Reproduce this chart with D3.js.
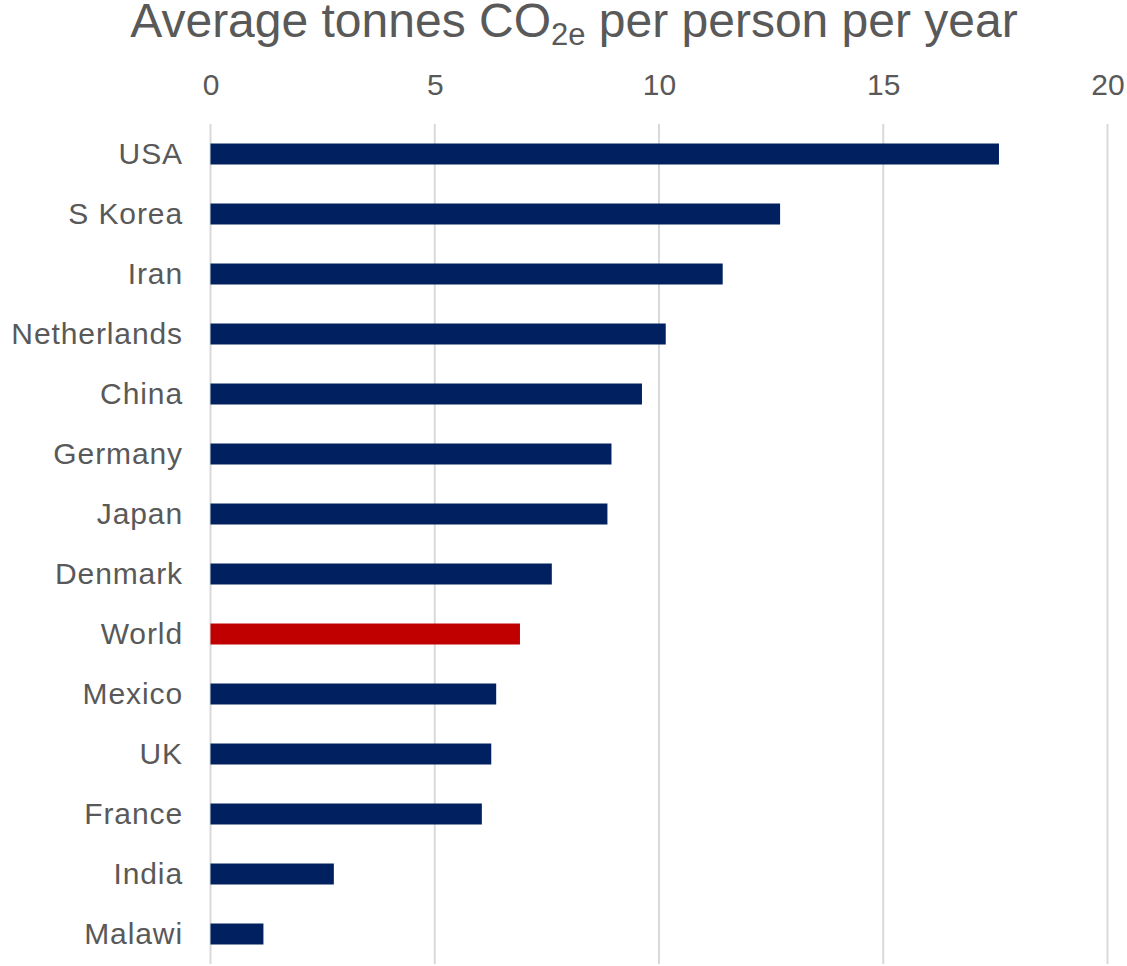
<!DOCTYPE html>
<html>
<head>
<meta charset="utf-8">
<script src="https://cdn.jsdelivr.net/npm/d3@7"></script>
<style>
  html, body { margin: 0; padding: 0; background: #fff; }
  svg { display: block; font-family: "Liberation Sans", Arial, sans-serif; }
</style>
</head>
<body>
<svg id="chart" width="1127" height="966"></svg>
<script>
// Per-capita emissions, tonnes CO2e per person per year
const countries = ["USA", "S Korea", "Iran", "Netherlands", "China", "Germany", "Japan",
                   "Denmark", "World", "Mexico", "UK", "France", "India", "Malawi"];
const emissions = [17.58, 12.70, 11.42, 10.15, 9.62, 8.94, 8.85,
                   7.61, 6.90, 6.37, 6.26, 6.05, 2.75, 1.18];
const xTicks = [0, 5, 10, 15, 20];
const highlight = "World";

const svg = d3.select("#chart");
const margin = { top: 124, right: 20, bottom: 2, left: 210.5 };
const W = 1127, H = 966;

const x = d3.scaleLinear().domain([0, 20]).range([margin.left, 1107.5]);
const y = d3.scaleBand().domain(countries).range([margin.top, H - margin.bottom]).paddingInner(0.65).paddingOuter(0.325);

// vertical gridlines
svg.append("g").selectAll("line").data(xTicks).join("line")
  .attr("x1", d => x(d)).attr("x2", d => x(d))
  .attr("y1", margin.top).attr("y2", H - margin.bottom)
  .attr("stroke", "#d9d9d9").attr("stroke-width", 2);

// top axis labels
const xAxis = d3.axisTop(x).tickValues(xTicks).tickSize(0).tickPadding(0);
const gx = svg.append("g").attr("transform", `translate(0, 95)`).call(xAxis);
gx.select(".domain").remove();
gx.selectAll("text").attr("font-size", 30).attr("fill", "#595959")
  .attr("font-family", "'Liberation Sans', Arial, sans-serif");

// category labels
const yAxis = d3.axisLeft(y).tickSize(0).tickPadding(0);
const gy = svg.append("g").attr("transform", `translate(183, 0)`).call(yAxis);
gy.select(".domain").remove();
gy.selectAll("text").attr("font-size", 30).attr("fill", "#595959")
  .attr("letter-spacing", 0.9)
  .attr("font-family", "'Liberation Sans', Arial, sans-serif");

// bars
svg.append("g").selectAll("rect").data(countries).join("rect")
  .attr("x", x(0))
  .attr("y", d => y(d))
  .attr("width", (d, i) => x(emissions[i]) - x(0))
  .attr("height", y.bandwidth())
  .attr("fill", d => d === highlight ? "#c00000" : "#002060");

// title with subscript
const title = svg.append("text")
  .attr("x", 574).attr("y", 37)
  .attr("text-anchor", "middle")
  .attr("font-size", 48).attr("fill", "#595959");
title.append("tspan").text("Average tonnes CO");
title.append("tspan").attr("font-size", 31).attr("dy", 8).text("2e");
title.append("tspan").attr("dy", -8).text(" per person per year");
</script>
</body>
</html>
